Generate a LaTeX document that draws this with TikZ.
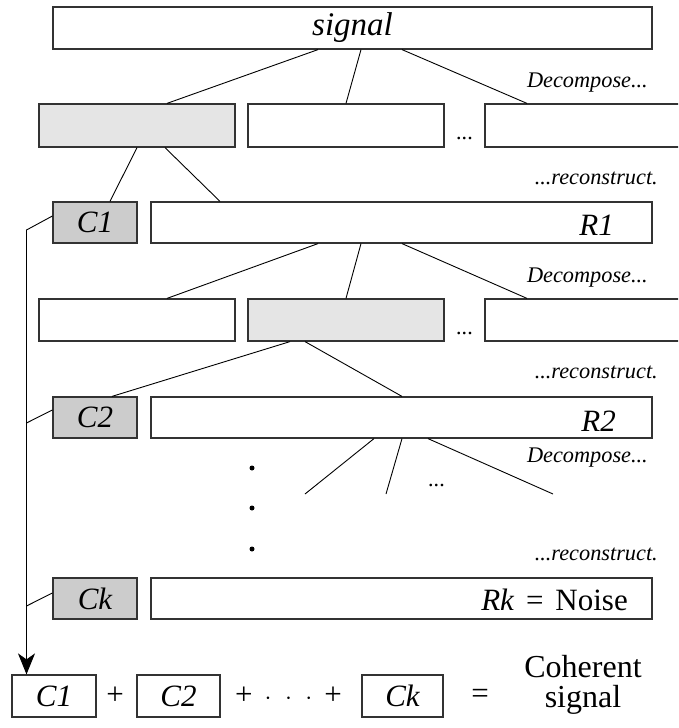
\documentclass[tikz,border=0pt]{standalone}
\usepackage{fontspec}
\setmainfont{Liberation Serif}
\usetikzlibrary{arrows.meta}
\tikzset{
  box/.style={draw=black!80, line width=1.2pt, inner sep=0pt, font=\fontsize{31}{31}\selectfont\itshape},
  lvl/.style={box, minimum height=43pt, minimum width=196pt},
  lvltwo/.style={box, minimum height=42pt, minimum width=196pt},
  cbox/.style={box, fill=black!20, minimum width=84pt, minimum height=41pt},
  rbox/.style={box, minimum width=501pt, minimum height=41pt},
  sumbox/.style={box, minimum height=42pt},
  hl/.style={fill=black!10},
  conn/.style={line width=0.9pt},
  note/.style={font=\fontsize{22.3}{22}\selectfont\itshape, inner sep=0pt, anchor=base east},
  lbl/.style={font=\fontsize{31}{31}\selectfont, inner sep=0pt},
  rlbl/.style={lbl, anchor=base east},
  dotnode/.style={circle, fill=black, inner sep=0pt, minimum size=5pt},
}
\begin{document}
\begin{tikzpicture}[x=1pt,y=-1pt]
\clip (0,0) rectangle (678,728);
\fill[white] (0,0) rectangle (678,728);

% top
\node[box, minimum width=599pt, minimum height=42pt, font=\fontsize{33}{33}\selectfont\itshape] (sig) at (352.5,28) {signal};

% level 1
\node[lvl, hl] (a1) at (137,125.5) {};
\node[lvl] (b1) at (346,125.5) {};
\node[lvl, minimum width=215pt] (c1) at (592.5,125.5) {};
\node[note, anchor=base] (el1) at (465,139) {...};
\node[note] (dec1) at (648,87) {Decompose...};
\node[note] (rec1) at (658,184) {...reconstruct.};

\draw[conn] ([xshift=-34.5pt]sig.south) -- ([xshift=30pt]a1.north);
\draw[conn] ([xshift=8.5pt]sig.south) -- (b1.north);
\draw[conn] ([xshift=49.5pt]sig.south) -- ([xshift=-65.5pt]c1.north);

% C1 / R1
\node[cbox] (cc1) at (95,222.5) {C1};
\node[rbox] (r1) at (401.5,222.5) {};
\node[rlbl, font=\fontsize{31}{31}\selectfont\itshape] (r1t) at (614,235) {R1};
\draw[conn] (a1.south) -- ([xshift=15pt]cc1.north);
\draw[conn] ([xshift=28pt]a1.south) -- ([xshift=-181.5pt]r1.north);

% level 2
\node[lvltwo] (a2) at (137,320) {};
\node[lvltwo, hl] (b2) at (346,320) {};
\node[lvltwo, minimum width=215pt] (c2) at (592.5,320) {};
\node[note, anchor=base] (el2) at (465,334) {...};
\node[note] (dec2) at (648,282) {Decompose...};
\node[note] (rec2) at (658,378) {...reconstruct.};

\draw[conn] ([xshift=-83.5pt]r1.south) -- ([xshift=30pt]a2.north);
\draw[conn] ([xshift=-40.5pt]r1.south) -- (b2.north);
\draw[conn] ([xshift=0.5pt]r1.south) -- ([xshift=-65.5pt]c2.north);

% C2 / R2
\node[cbox] (cc2) at (95,417.5) {C2};
\node[rbox] (r2) at (401.5,417.5) {};
\node[rlbl, font=\fontsize{31}{31}\selectfont\itshape] (r2t) at (616,431) {R2};
\draw[conn] ([xshift=-56pt]b2.south) -- ([xshift=17pt]cc2.north);
\draw[conn] ([xshift=-41pt]b2.south) -- ([xshift=0.5pt]r2.north);

% level 3 (open)
\coordinate (e1) at (305,494);
\coordinate (e2) at (386,494);
\coordinate (e3) at (553,494);
\draw[conn] ([xshift=-27.5pt]r2.south) -- (e1);
\draw[conn] ([xshift=0.5pt]r2.south) -- (e2);
\draw[conn] ([xshift=26.5pt]r2.south) -- (e3);
\node[note, anchor=base] (el3) at (437,486) {...};
\node[note] (dec3) at (648,462) {Decompose...};
\node[note] (rec3) at (658,560) {...reconstruct.};
\node[dotnode] (v1) at (252,468) {};
\node[dotnode] (v2) at (252,508) {};
\node[dotnode] (v3) at (252,549) {};

% Ck / Rk
\node[cbox] (cck) at (95,598.5) {Ck};
\node[rbox] (rk) at (401.5,598.5) {};
\node[rlbl] (rkt) at (628,610) {\textit{Rk}\hspace{0.38em}=\hspace{0.38em}Noise};

% bottom sum
\node[sumbox, minimum width=84pt] (bc1) at (54,696) {C1};
\node[lbl] (p1) at (115,696) {+};
\node[sumbox, minimum width=83pt] (bc2) at (178.5,696) {C2};
\node[lbl] (mid) at (288.5,696) {+\hspace{12pt}$\cdot\hspace{8pt}\cdot\hspace{8pt}\cdot$\hspace{12pt}+};
\node[sumbox, minimum width=81pt] (bck) at (402.5,696) {Ck};
\node[lbl] (eq) at (480,696) {=};
\node[lbl, font=\fontsize{32}{30}\selectfont, align=center] (coh) at (583,685) {Coherent\\signal};

% collecting arrow
\coordinate (bend) at (26.5,230);
\coordinate (j2) at (26.5,423);
\coordinate (jk) at (26.5,606);
\draw[conn, -{Stealth[length=21pt,width=17pt,inset=6pt]}] ([yshift=6.5pt]cc1.west) -- (bend) -- (bc1.north -| bend);
\draw[conn] ([yshift=7.5pt]cc2.west) -- (j2);
\draw[conn] ([yshift=5.5pt]cck.west) -- (jk);
\end{tikzpicture}
\end{document}
